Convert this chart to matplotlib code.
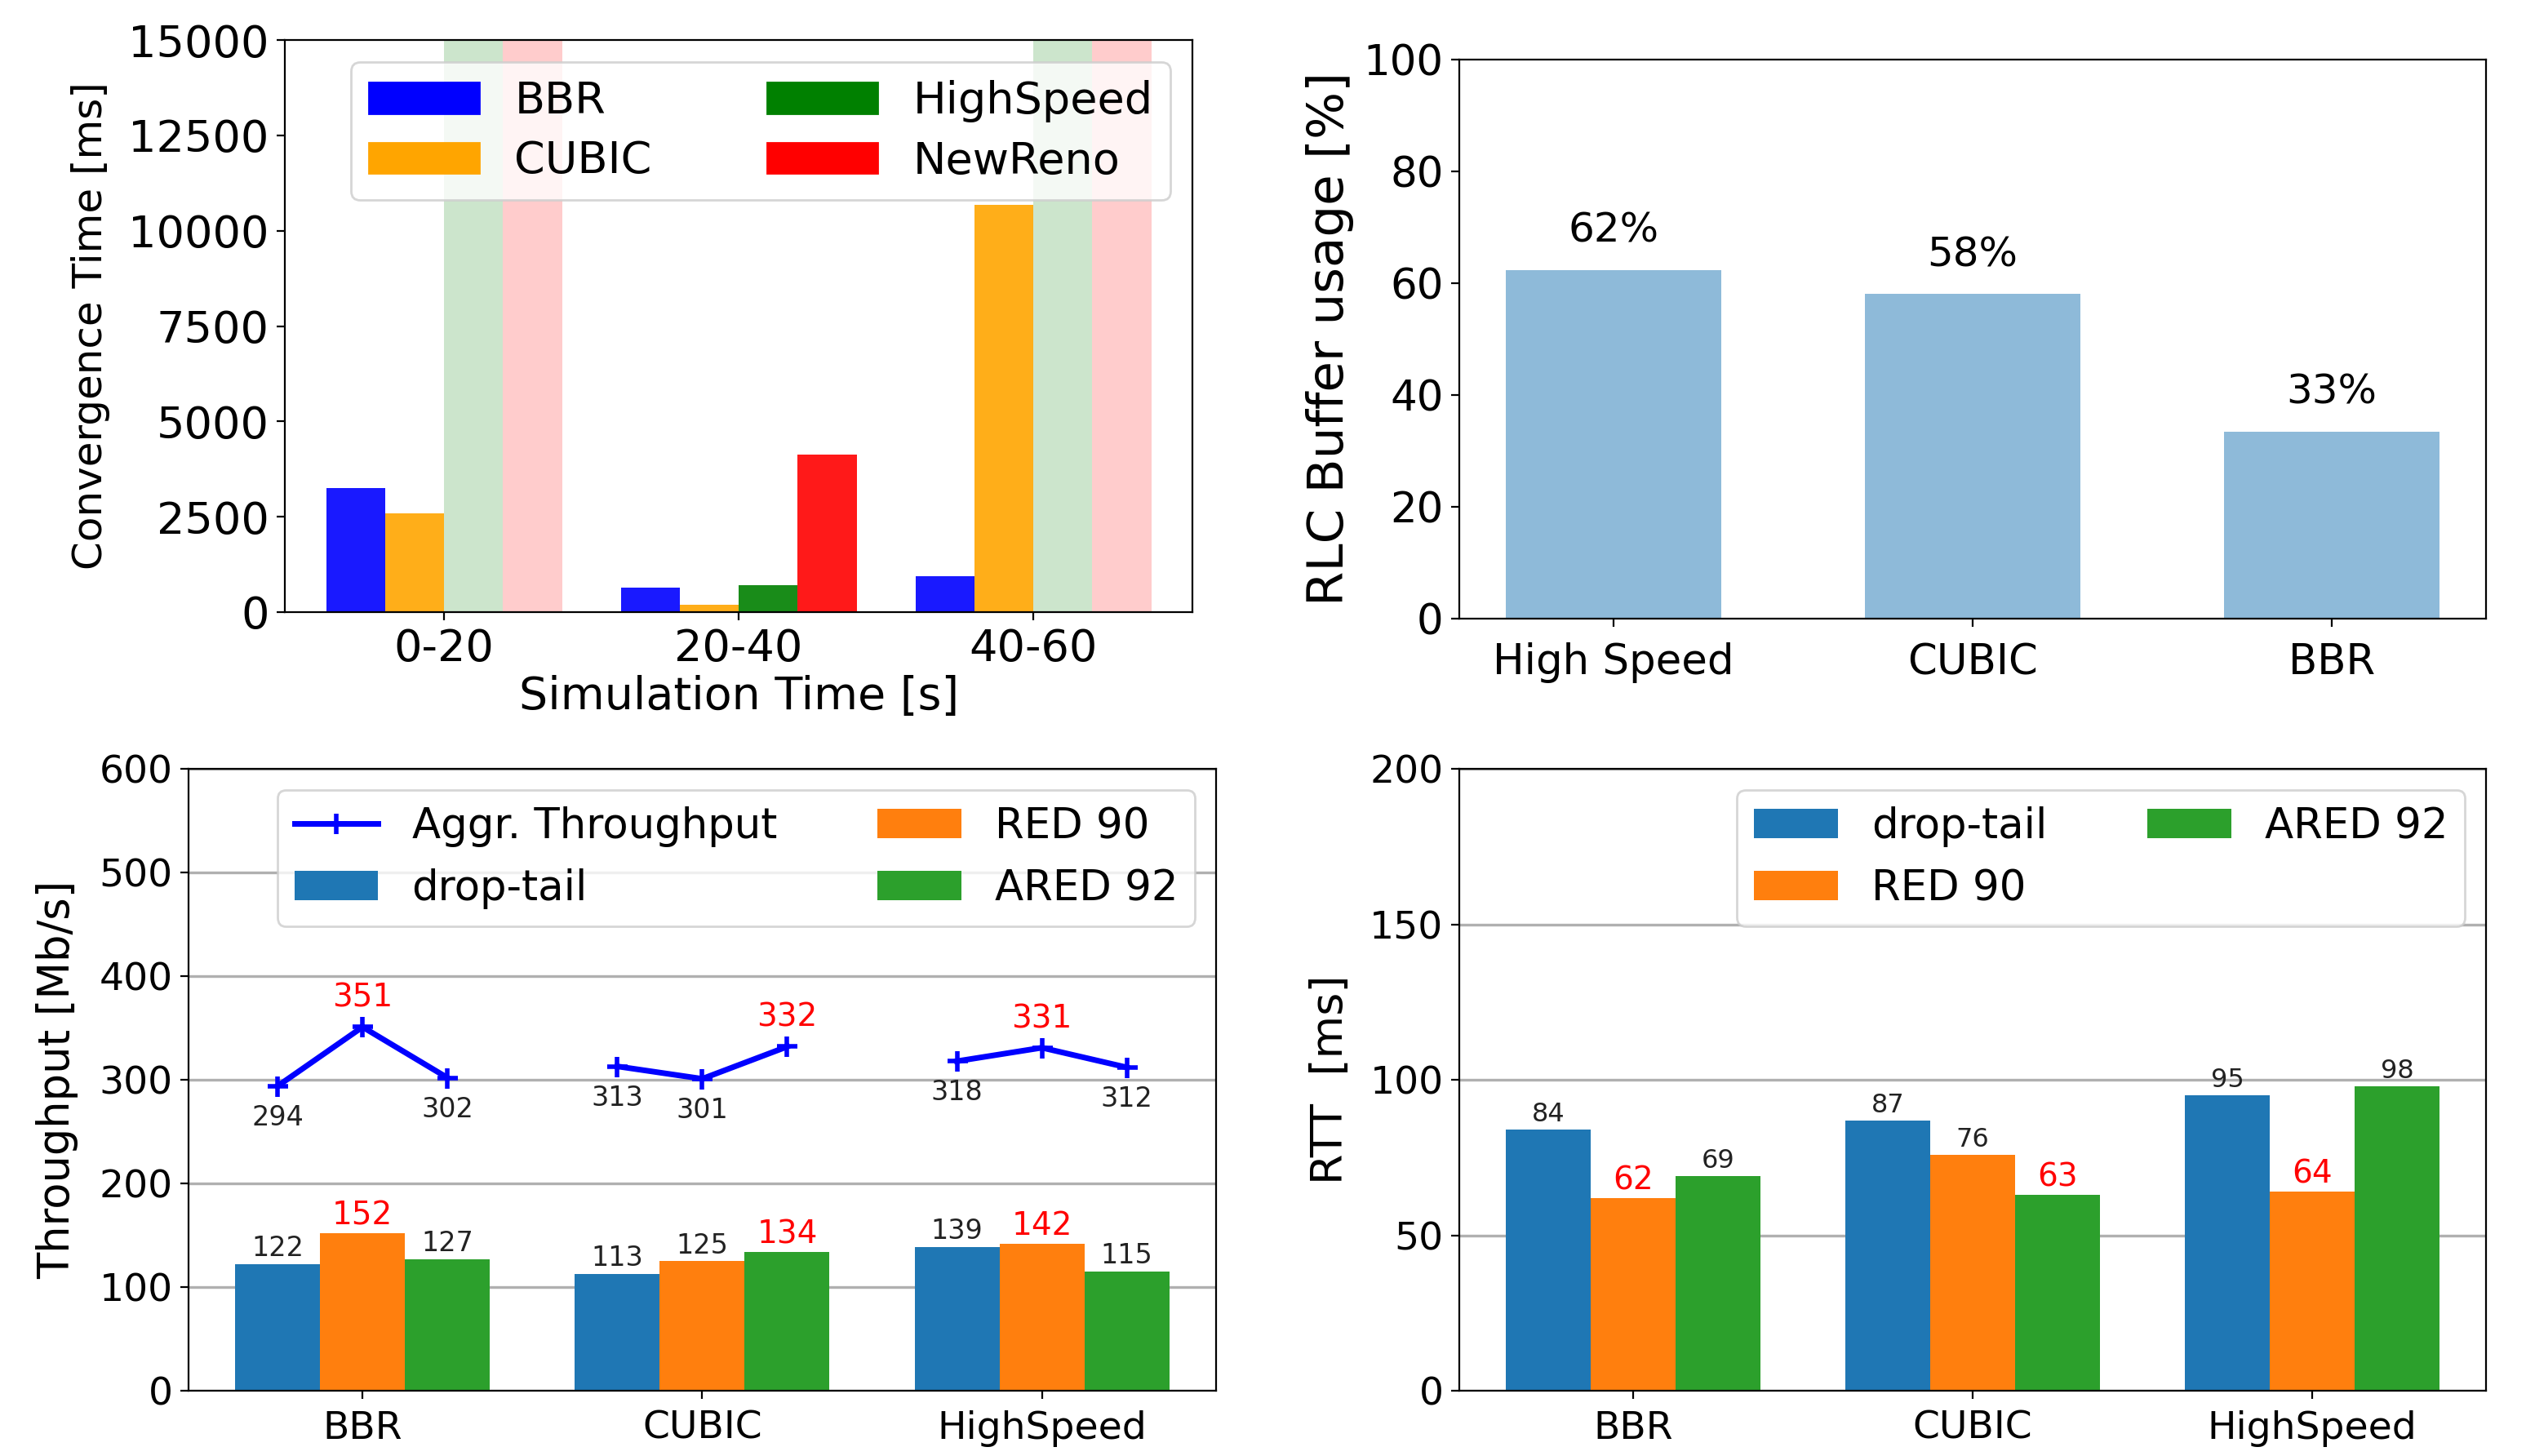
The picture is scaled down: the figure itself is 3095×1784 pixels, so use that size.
import matplotlib.pyplot as plt
import numpy as np
from matplotlib.patches import Patch

# --- convergence time (top left) ---
periods = ['0-20', '20-40', '40-60']
cc_names = ['BBR', 'CUBIC', 'HighSpeed', 'NewReno']
conv_bbr = [3250, 650, 950]
conv_cubic = [2580, 200, 10680]
conv_highspeed = [np.nan, 700, np.nan]   # nan = never converged
conv_newreno = [np.nan, 4130, np.nan]
cc_colors = ['blue', 'orange', 'green', 'red']

# --- RLC buffer usage (top right) ---
buf_names = ['High Speed', 'CUBIC', 'BBR']
buf_usage = [62.4, 58.1, 33.5]
buf_labels = ['62%', '58%', '33%']

# --- throughput / RTT (bottom) ---
algos = ['BBR', 'CUBIC', 'HighSpeed']
queues = ['drop-tail', 'RED 90', 'ARED 92']
q_colors = ['#1f77b4', '#ff7f0e', '#2ca02c']
thr_droptail = [122, 113, 139]
thr_red = [152, 125, 142]
thr_ared = [127, 134, 115]
aggr_thr = [[294, 351, 302], [313, 301, 332], [318, 331, 312]]
rtt_droptail = [84, 87, 95]
rtt_red = [62, 76, 64]
rtt_ared = [69, 63, 98]

fig = plt.figure(figsize=(15.475, 8.92), dpi=200)

# ---------------- top left ----------------
ax1 = fig.add_axes([0.1128, 0.5796, 0.3593, 0.3929])
x = np.arange(len(periods))
w = 0.2
ymax1 = 15000
for i, (vals, col) in enumerate(zip([conv_bbr, conv_cubic, conv_highspeed, conv_newreno], cc_colors)):
    vals = np.array(vals, dtype=float)
    pos = x + (i - 1.5) * w
    ok = ~np.isnan(vals)
    ax1.bar(pos[ok], vals[ok], w, color=col, alpha=0.9)
    if (~ok).any():
        ax1.bar(pos[~ok], ymax1, w, color=col, alpha=0.2)
ax1.set_ylim(0, ymax1)
ax1.set_yticks(np.arange(0, 15001, 2500))
ax1.set_xticks(x)
ax1.set_xticklabels(periods)
ax1.tick_params(labelsize=19.5)
ax1.set_xlabel('Simulation Time [s]', fontsize=20, labelpad=2)
ax1.set_ylabel('Convergence Time [ms]', fontsize=18, labelpad=8)
ax1.legend([Patch(color=c) for c in cc_colors], cc_names, ncol=2, loc='upper right',
           fontsize=19.5, handlelength=2.5, columnspacing=2.6, labelspacing=0.4)

# ---------------- top right ----------------
ax2 = fig.add_axes([0.5777, 0.5751, 0.4065, 0.3840])
xb = np.arange(len(buf_names))
ax2.bar(xb, buf_usage, 0.6, color='#1f77b4', alpha=0.5)
for xi, v, lab in zip(xb, buf_usage, buf_labels):
    ax2.text(xi, v + 3.5, lab, ha='center', va='bottom', fontsize=18)
ax2.set_ylim(0, 100)
ax2.set_xticks(xb)
ax2.set_xticklabels(buf_names)
ax2.tick_params(labelsize=18.5)
ax2.tick_params(axis='x', pad=7)
ax2.set_ylabel('RLC Buffer usage [%]', fontsize=22)


def grouped(ax, series, best, fmin):
    xg = np.arange(len(algos))
    wg = 0.25
    data = np.array(series)
    for i, (vals, col, name) in enumerate(zip(series, q_colors, queues)):
        pos = xg + (i - 1) * wg
        ax.bar(pos, vals, wg, color=col, label=name)
    for g in range(len(algos)):
        col_vals = data[:, g]
        hi = best(col_vals)
        for i, v in enumerate(col_vals):
            red = v == hi
            ax.annotate(str(v), (xg[g] + (i - 1) * wg, v), xytext=(0, 1),
                        textcoords='offset points', ha='center', va='bottom',
                        color='red' if red else '#222222', fontsize=14 if red else fmin)
    ax.set_xticks(xg)
    ax.set_xticklabels(algos)
    ax.yaxis.grid(True, color='#b0b0b0', linewidth=1.2)
    ax.set_axisbelow(True)
    ax.tick_params(labelsize=17)
    ax.tick_params(axis='x', pad=5)
    return xg, wg


# ---------------- bottom left ----------------
ax3 = fig.add_axes([0.0746, 0.0448, 0.4068, 0.4271])
xg, wg = grouped(ax3, [thr_droptail, thr_red, thr_ared], max, 12)
for g, vals in enumerate(aggr_thr):
    pos = xg[g] + (np.arange(3) - 1) * wg
    ax3.plot(pos, vals, color='blue', marker='+', lw=2.5, ms=9, mew=2,
             label='Aggr. Throughput' if g == 0 else None)
    hi = max(vals)
    for p, v in zip(pos, vals):
        if v == hi:
            ax3.annotate(str(v), (p, v), xytext=(0, 6), textcoords='offset points',
                         ha='center', va='bottom', color='red', fontsize=14)
        else:
            ax3.annotate(str(v), (p, v), xytext=(0, -8), textcoords='offset points',
                         ha='center', va='top', color='#222222', fontsize=12)
ax3.set_ylim(0, 600)
ax3.set_ylabel('Throughput [Mb/s]', fontsize=19, labelpad=9)
ax3.legend(ncol=2, loc='upper right', fontsize=18.5, columnspacing=2.4)

# ---------------- bottom right ----------------
ax4 = fig.add_axes([0.5777, 0.0448, 0.4065, 0.4271])
grouped(ax4, [rtt_droptail, rtt_red, rtt_ared], min, 11.5)
ax4.set_ylim(0, 200)
ax4.set_yticks([0, 50, 100, 150, 200])
ax4.set_ylabel('RTT  [ms]', fontsize=19.5, labelpad=8)
ax4.legend(ncol=2, loc='upper right', fontsize=18.5, columnspacing=2.4)

plt.savefig('out.png', dpi=200)
